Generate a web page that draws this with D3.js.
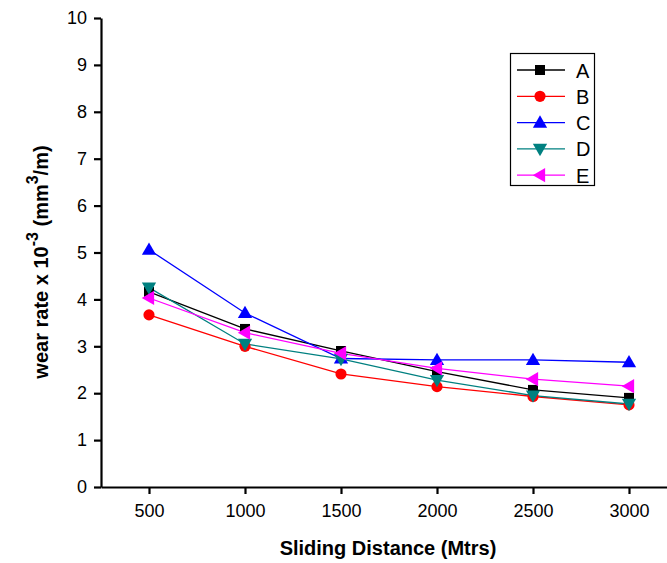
<!DOCTYPE html>
<html><head><meta charset="utf-8">
<script src="https://cdn.jsdelivr.net/npm/d3@7"></script>
<style>body{margin:0;background:#fff}svg{display:block;font-family:"Liberation Sans",Arial,sans-serif}</style>
</head><body><svg id="c" width="667" height="563"></svg>
<script>
const distances = [500, 1000, 1500, 2000, 2500, 3000];
const seriesNames = ["A", "B", "C", "D", "E"];
const valuesA = [4.16, 3.37, 2.90, 2.46, 2.07, 1.90];
const valuesB = [3.67, 3.00, 2.41, 2.14, 1.93, 1.75];
const valuesC = [5.06, 3.71, 2.74, 2.71, 2.71, 2.66];
const valuesD = [4.25, 3.05, 2.73, 2.28, 1.95, 1.77];
const valuesE = [4.03, 3.29, 2.85, 2.53, 2.30, 2.15];
const xTicks = [500, 1000, 1500, 2000, 2500, 3000];
const yTicks = [0, 1, 2, 3, 4, 5, 6, 7, 8, 9, 10];
const colors = ["#000000", "#ff0000", "#0000ff", "#008080", "#ff00ff"];
const allValues = [valuesA, valuesB, valuesC, valuesD, valuesE];

const svg = d3.select("#c");
const x = d3.scaleLinear().domain([250, 3250]).range([101, 677]);
const y = d3.scaleLinear().domain([0, 10]).range([487, 18]);

// axes
const xAxis = svg.append("g").attr("transform", "translate(0,487)");
xAxis.call(d3.axisBottom(x).tickValues(d3.range(250, 3251, 250)).tickFormat("").tickSize(4).tickSizeOuter(0));
xAxis.call(d3.axisBottom(x).tickValues(xTicks).tickFormat(d3.format("d")).tickSize(7).tickSizeOuter(0).tickPadding(10));
xAxis.selectAll(".domain, line").attr("stroke", "#000").attr("stroke-width", 2.2);
xAxis.selectAll("text").attr("font-size", 18).attr("fill", "#000").attr("font-family", "Liberation Sans, Arial, sans-serif");

const yAxis = svg.append("g").attr("transform", "translate(101,0)");
yAxis.call(d3.axisLeft(y).tickValues(d3.range(0, 10.01, 0.5)).tickFormat("").tickSize(4).tickSizeOuter(0));
yAxis.call(d3.axisLeft(y).tickValues(yTicks).tickFormat(d3.format("d")).tickSize(7).tickSizeOuter(0).tickPadding(7));
yAxis.selectAll(".domain, line").attr("stroke", "#000").attr("stroke-width", 2.2);
yAxis.selectAll("text").attr("font-size", 18).attr("fill", "#000").attr("font-family", "Liberation Sans, Arial, sans-serif");

// titles
svg.append("text").attr("x", 388).attr("y", 555).attr("text-anchor", "middle")
  .attr("font-size", 20).attr("font-weight", "bold").text("Sliding Distance (Mtrs)");
const yt = svg.append("text").attr("transform", "translate(48,262) rotate(-90)").attr("text-anchor", "middle")
  .attr("font-size", 20).attr("font-weight", "bold");
yt.append("tspan").text("wear rate x 10");
yt.append("tspan").attr("dy", -10).attr("font-size", 16).text("-3");
yt.append("tspan").attr("dy", 10).text(" (mm");
yt.append("tspan").attr("dy", -10).attr("font-size", 16).text("3");
yt.append("tspan").attr("dy", 10).text("/m)");

// markers
const symSq = d3.symbol().type(d3.symbolSquare).size(100);
const symCircle = d3.symbol().type(d3.symbolCircle).size(98);
const symTri = d3.symbol().type(d3.symbolTriangle).size(88);
function drawMarker(g, i, cx, cy) {
  const c = colors[i];
  if (i === 0) g.append("path").attr("d", symSq()).attr("transform", `translate(${cx},${cy})`).attr("fill", c);
  else if (i === 1) g.append("path").attr("d", symCircle()).attr("transform", `translate(${cx},${cy})`).attr("fill", c);
  else if (i === 2) g.append("path").attr("d", symTri()).attr("transform", `translate(${cx},${cy+1})`).attr("fill", c);
  else if (i === 3) g.append("path").attr("d", symTri()).attr("transform", `translate(${cx},${cy-1}) rotate(180)`).attr("fill", c);
  else g.append("path").attr("d", symTri()).attr("transform", `translate(${cx+1},${cy}) rotate(-90)`).attr("fill", c);
}

const line = d3.line().x((d, j) => x(distances[j])).y(d => y(d));
const plot = svg.append("g");
allValues.forEach((vals, i) => {
  plot.append("path").attr("d", line(vals)).attr("fill", "none").attr("stroke", colors[i]).attr("stroke-width", 1.3);
});
allValues.forEach((vals, i) => {
  vals.forEach((v, j) => drawMarker(plot, i, x(distances[j]), y(v)));
});

// legend
const lg = svg.append("g");
lg.append("rect").attr("x", 510.5).attr("y", 53.5).attr("width", 84).attr("height", 132)
  .attr("fill", "#fff").attr("stroke", "#000").attr("stroke-width", 1.2);
seriesNames.forEach((n, i) => {
  const ly = 70 + i * 26.3;
  lg.append("line").attr("x1", 517).attr("x2", 565).attr("y1", ly).attr("y2", ly)
    .attr("stroke", colors[i]).attr("stroke-width", 1.3);
  drawMarker(lg, i, 540, ly);
  lg.append("text").attr("x", 576).attr("y", ly + 7.5).attr("font-size", 20).text(n);
});
</script></body></html>
